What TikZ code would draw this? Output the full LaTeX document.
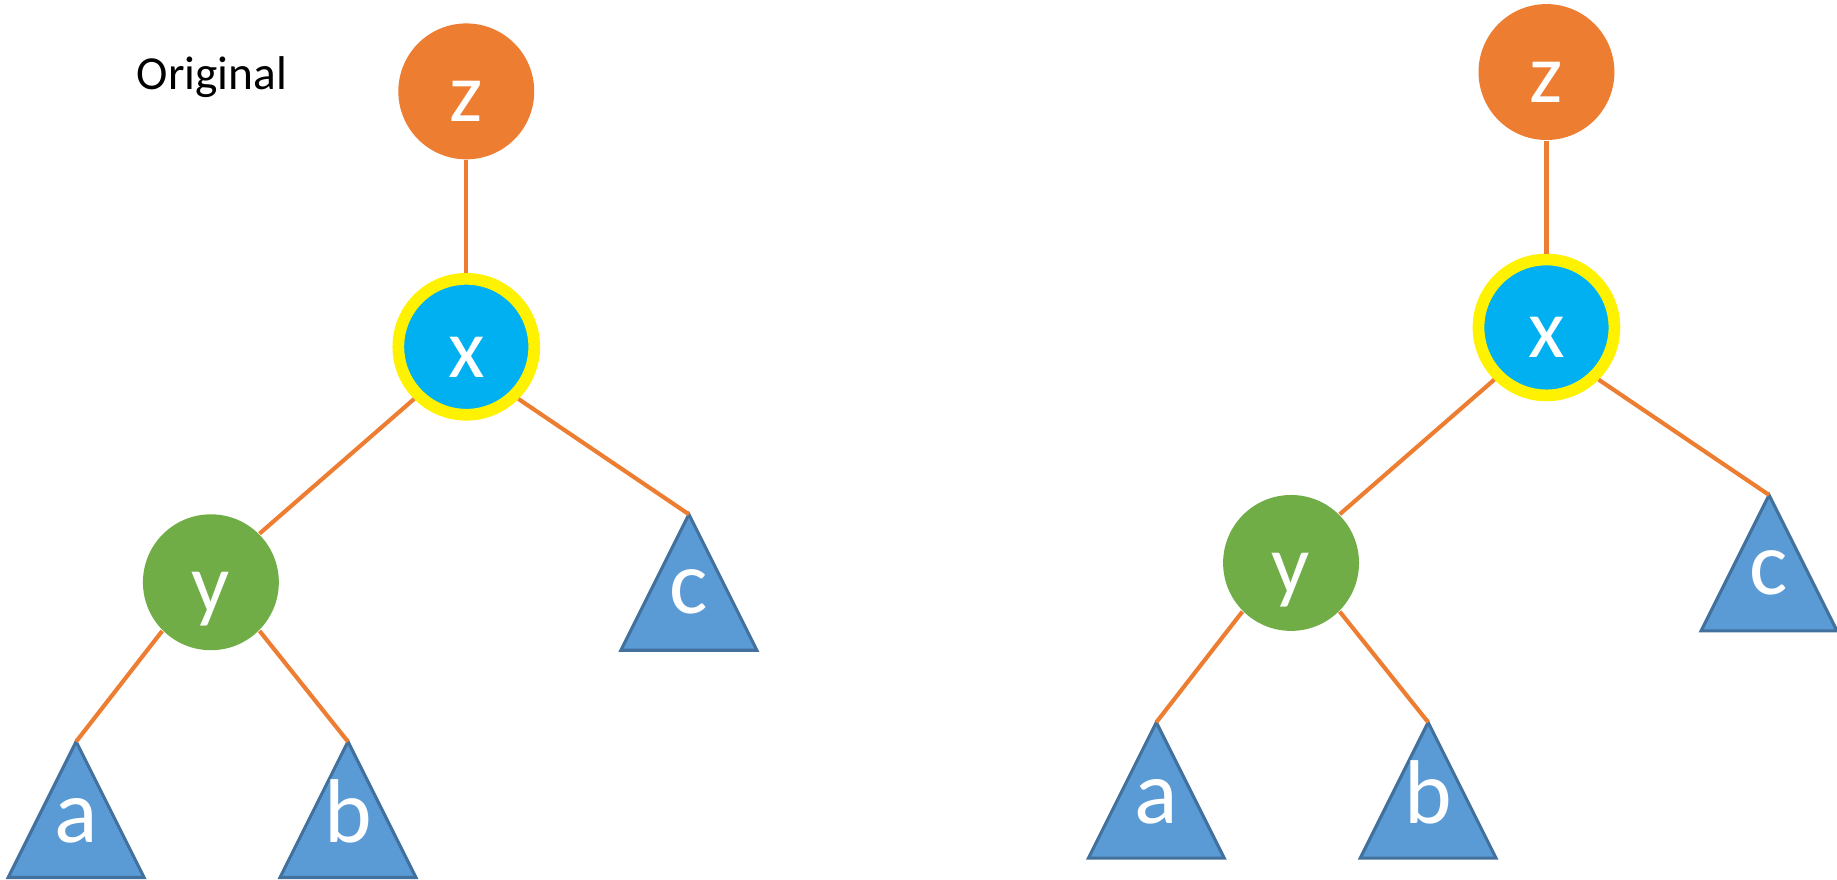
\documentclass[tikz,border=0pt]{standalone}
\usepackage{fontspec}
\setmainfont{Carlito}
\usepackage{tikz}

\definecolor{zorange}{HTML}{ED7D31}
\definecolor{xblue}{HTML}{00B0F0}
\definecolor{ygreen}{HTML}{70AD47}
\definecolor{treefill}{HTML}{5B9BD5}
\definecolor{treeline}{HTML}{41719C}

\tikzset{
	vertex/.style={circle, minimum size=1.16cm, inner sep=0pt, text=white,
		text height=0.62cm, text depth=0.1cm, font=\fontsize{20.5}{21}\selectfont},
	link/.style={draw=zorange, line width=1pt},
	subtree/.style={fill=treefill, draw=treeline, line width=0.75pt},
	subname/.style={anchor=base, inner sep=0pt, text=white, font=\fontsize{22}{22}\selectfont}
}

\begin{document}
\begin{tikzpicture}
	\useasboundingbox (0,0) rectangle (15.68,-7.51);

	\node (title) at (1.16,-0.76) [anchor=base west, inner sep=0pt, font=\fontsize{11.5}{12}\selectfont] {Original};

	% left tree
	\coordinate (c1) at (5.88,-4.39);
	\coordinate (a1) at (0.65,-6.33);
	\coordinate (b1) at (2.97,-6.33);
	\draw[subtree] (c1) -- ++(-0.58,-1.16) -- ++(1.16,0) -- cycle;
	\draw[subtree] (a1) -- ++(-0.58,-1.16) -- ++(1.16,0) -- cycle;
	\draw[subtree] (b1) -- ++(-0.58,-1.16) -- ++(1.16,0) -- cycle;
	\node[subname] (lc1) at (5.88,-5.24) {c};
	\node[subname] (la1) at (0.65,-7.19) {a};
	\node[subname] (lb1) at (2.97,-7.19) {b};

	\node[vertex, fill=zorange] (z1) at (3.98,-0.78) {z};
	\node[vertex, fill=xblue, draw=yellow, line width=0.1cm] (x1) at (3.98,-2.96) {x};
	\node[vertex, fill=ygreen] (y1) at (1.80,-4.97) {y};

	\draw[link] (z1) -- (x1);
	\draw[link] (x1.-135) -- (y1.45);
	\draw[link] (x1.-45) -- (c1);
	\draw[link] (y1.-135) -- (a1);
	\draw[link] (y1.-45) -- (b1);

	% right tree
	\coordinate (c2) at (15.10,-4.225);
	\coordinate (a2) at (9.87,-6.165);
	\coordinate (b2) at (12.19,-6.165);
	\draw[subtree] (c2) -- ++(-0.58,-1.16) -- ++(1.16,0) -- cycle;
	\draw[subtree] (a2) -- ++(-0.58,-1.16) -- ++(1.16,0) -- cycle;
	\draw[subtree] (b2) -- ++(-0.58,-1.16) -- ++(1.16,0) -- cycle;
	\node[subname] (lc2) at (15.10,-5.075) {c};
	\node[subname] (la2) at (9.87,-7.025) {a};
	\node[subname] (lb2) at (12.19,-7.025) {b};

	\node[vertex, fill=zorange] (z2) at (13.20,-0.615) {z};
	\node[vertex, fill=xblue, draw=yellow, line width=0.1cm] (x2) at (13.20,-2.795) {x};
	\node[vertex, fill=ygreen] (y2) at (11.02,-4.805) {y};

	\draw[link] (z2) -- (x2);
	\draw[link] (x2.-135) -- (y2.45);
	\draw[link] (x2.-45) -- (c2);
	\draw[link] (y2.-135) -- (a2);
	\draw[link] (y2.-45) -- (b2);
\end{tikzpicture}
\end{document}
